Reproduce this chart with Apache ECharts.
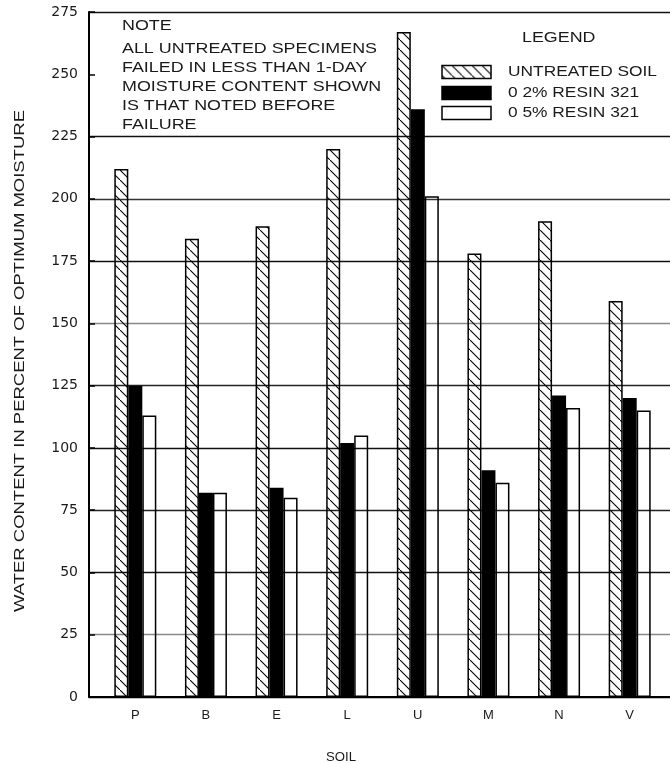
<!DOCTYPE html>
<html><head><meta charset="utf-8">
<script src="https://cdn.jsdelivr.net/npm/echarts@6/dist/echarts.min.js"></script>
<style>html,body{margin:0;padding:0;background:#fff}#c{width:670px;height:763px}</style>
</head><body><div id="c"></div>
<script>
// ---- data ----
const categories = ['P', 'B', 'E', 'L', 'U', 'M', 'N', 'V'];
const untreated = [212, 184, 189, 220, 267, 178, 191, 159];
const resin02   = [125, 82, 84, 102, 236, 91, 121, 120];
const resin05   = [113, 82, 80, 105, 201, 86, 116, 115];
const seriesNames = ['UNTREATED SOIL', '0 2% RESIN 321', '0 5% RESIN 321'];
const yMin = 0, yMax = 275, yStep = 25;
const noteLines = ['NOTE', 'ALL UNTREATED SPECIMENS', 'FAILED IN LESS THAN 1-DAY',
  'MOISTURE CONTENT SHOWN', 'IS THAT NOTED BEFORE', 'FAILURE'];
const legendTitle = 'LEGEND';
const yTitle = 'WATER CONTENT IN PERCENT OF OPTIMUM MOISTURE';
const xTitle = 'SOIL';

// ---- helpers ----
const FONT = '"Liberation Sans", "DejaVu Sans", sans-serif';
const INK = '#1a1a1a';
const mctx = document.createElement('canvas').getContext('2d');
function fitScale(text, size, target) {
  mctx.font = size + 'px ' + FONT;
  return target / mctx.measureText(text).width;
}
function hatchCanvas() {
  const c = document.createElement('canvas');
  c.width = 10; c.height = 10;
  const g = c.getContext('2d');
  g.strokeStyle = '#000'; g.lineWidth = 1.1;
  g.beginPath(); g.moveTo(-2, -2); g.lineTo(12, 12); g.stroke();
  return c;
}
const hatch = { image: hatchCanvas(), repeat: 'repeat' };

function label(text, x, y, size, scale) {
  return {
    type: 'text', x: x, y: y, scaleX: scale, z: 50,
    style: { text: text, fontSize: size, fontFamily: FONT, fill: INK,
      align: 'left', verticalAlign: 'middle' }
  };
}

// split line colours (one per tick 0..275)
const gridColors = ['#000', '#888', '#111', '#222', '#111', '#222', '#888', '#111', '#333', '#111', 'rgba(0,0,0,0)', '#111'];

const noteY = [26, 49, 68, 87, 106, 125];
const noteScale = fitScale(noteLines[1], 14, 255);
const graphics = [];
noteLines.forEach((t, i) => graphics.push(label(t, 122, noteY[i], 14, noteScale)));
graphics.push(label(legendTitle, 522, 38, 14, noteScale));
const legY = [72, 93, 113];
const legScale = fitScale(seriesNames[0], 14, 149);
const legFill = [hatch, '#000', 'rgba(0,0,0,0)'];
seriesNames.forEach((n, i) => {
  graphics.push({ type: 'rect', x: 442, y: legY[i] - 6.5, z: 50,
    shape: { width: 49, height: 13 },
    style: { fill: legFill[i], stroke: '#000', lineWidth: 1.5 } });
  graphics.push(label(n, 508, legY[i], 14, legScale));
});
graphics.push({
  type: 'text', x: 20, y: 361, rotation: Math.PI / 2, z: 50,
  scaleX: fitScale(yTitle, 14, 502),
  style: { text: yTitle, fontSize: 14, fontFamily: FONT, fill: INK, align: 'center', verticalAlign: 'middle' }
});
graphics.push(label(xTitle, 326, 757, 13, fitScale(xTitle, 13, 30)));

const chart = echarts.init(document.getElementById('c'), null, { renderer: 'canvas' });
chart.setOption({
  backgroundColor: '#fff',
  animation: false,
  grid: [
    { left: 89, right: 0, top: 12, bottom: 66 },
    { left: 100, width: 565, top: 12, bottom: 66 }
  ],
  xAxis: [
    { gridIndex: 0, type: 'value', min: 0, max: 1,
      axisLine: { show: true, lineStyle: { color: '#000', width: 2 } },
      axisTick: { show: false }, axisLabel: { show: false }, splitLine: { show: false } },
    { gridIndex: 1, type: 'category', data: categories,
      axisLine: { show: false }, axisTick: { show: false }, splitLine: { show: false },
      axisLabel: { fontSize: 13, fontFamily: FONT, color: INK, margin: 12 } }
  ],
  yAxis: [
    { gridIndex: 0, type: 'value', min: yMin, max: yMax, interval: yStep,
      axisLine: { show: true, lineStyle: { color: '#000', width: 2 } },
      axisTick: { show: true, inside: true, length: 6, lineStyle: { color: '#000', width: 1.5 } },
      axisLabel: { fontSize: 14, fontFamily: '"DejaVu Sans", sans-serif', color: INK, margin: 11 },
      splitLine: { show: true, lineStyle: { color: gridColors, width: 1.3 } } },
    { gridIndex: 1, type: 'value', min: yMin, max: yMax, interval: yStep, show: false,
      splitLine: { show: false } }
  ],
  series: [
    { name: seriesNames[0], type: 'bar', xAxisIndex: 1, yAxisIndex: 1, data: untreated,
      barWidth: 14, barGap: '0%',
      itemStyle: { color: hatch, borderColor: '#000', borderWidth: 1.5 } },
    { name: seriesNames[1], type: 'bar', xAxisIndex: 1, yAxisIndex: 1, data: resin02,
      barWidth: 14, barGap: '0%',
      itemStyle: { color: '#000', borderColor: '#000', borderWidth: 1.5 } },
    { name: seriesNames[2], type: 'bar', xAxisIndex: 1, yAxisIndex: 1, data: resin05,
      barWidth: 14, barGap: '0%',
      itemStyle: { color: 'rgba(0,0,0,0)', borderColor: '#000', borderWidth: 1.5 } }
  ],
  graphic: graphics
});
</script></body></html>
